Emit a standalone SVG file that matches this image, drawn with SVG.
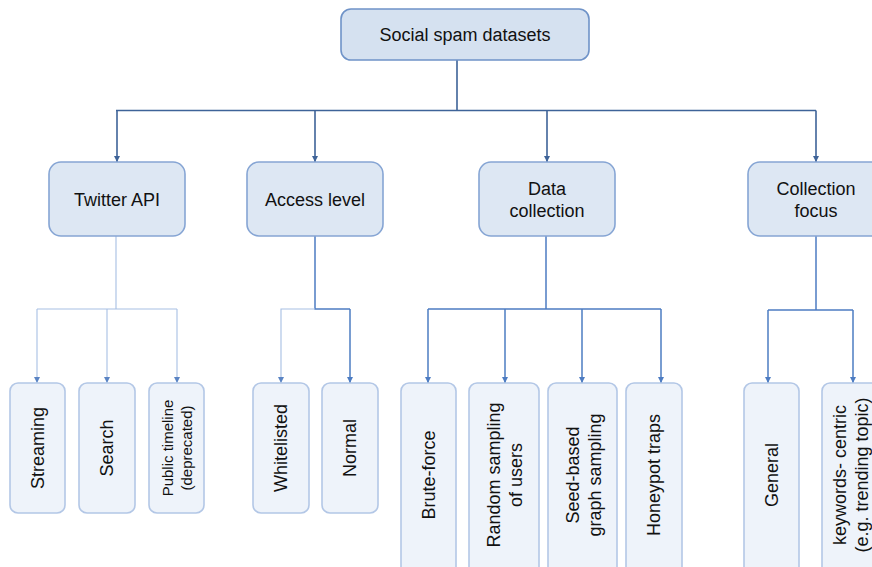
<svg xmlns="http://www.w3.org/2000/svg" width="872" height="567" viewBox="0 0 872 567">
  <defs>
    <marker id="arrDark" viewBox="0 0 10 10" refX="10" refY="5" markerWidth="6" markerHeight="6" markerUnits="userSpaceOnUse" orient="auto">
      <path d="M0,0 L10,5 L0,10 z" fill="#3e6398"/>
    </marker>
    <marker id="arrMid" viewBox="0 0 10 10" refX="10" refY="5" markerWidth="6" markerHeight="6" markerUnits="userSpaceOnUse" orient="auto">
      <path d="M0,0 L10,5 L0,10 z" fill="#4d7cc2"/>
    </marker>
    <marker id="arrLight" viewBox="0 0 10 10" refX="10" refY="5" markerWidth="6" markerHeight="6" markerUnits="userSpaceOnUse" orient="auto">
      <path d="M0,0 L10,5 L0,10 z" fill="#5a84c4"/>
    </marker>
  </defs>
  <style>
    text { font-family: "Liberation Sans", Arial, sans-serif; fill: #111; text-anchor: middle; }
    .root rect { fill: #d5e1f0; stroke: #6f93c8; stroke-width: 1.6; }
    .cat rect { fill: #dde7f3; stroke: #86a5d4; stroke-width: 1.6; }
    .leaf rect { fill: #eef3fa; stroke: #b3c7e6; stroke-width: 1.6; }
    .t18 { font-size: 18px; }
    .t15 { font-size: 15px; }
    .dark { fill: none; stroke: #3e6398; stroke-width: 1.6; }
    .mid { fill: none; stroke: #4d7cc2; stroke-width: 1.5; }
    .light { fill: none; stroke: #a7bfe3; stroke-width: 1.1; }
  </style>

  <!-- connectors -->
  <g id="connectors">
    <!-- root to categories -->
    <path class="dark" d="M457,60 V110.5 M116,110.5 H816"/>
    <path class="dark" d="M117,110.5 V162" marker-end="url(#arrDark)"/>
    <path class="dark" d="M315,110.5 V162" marker-end="url(#arrDark)"/>
    <path class="dark" d="M547,110.5 V162" marker-end="url(#arrDark)"/>
    <path class="dark" d="M816,110.5 V162" marker-end="url(#arrDark)"/>

    <!-- Twitter API children -->
    <path class="light" d="M116,236 V309 M37,309 H177"/>
    <path class="light" d="M37,309 V383" marker-end="url(#arrLight)"/>
    <path class="light" d="M107,309 V383" marker-end="url(#arrLight)"/>
    <path class="light" d="M177,309 V383" marker-end="url(#arrLight)"/>

    <!-- Access level children -->
    <path class="mid" d="M315,236 V309 H350"/>
    <path class="light" d="M315,309 H281 V383" marker-end="url(#arrLight)"/>
    <path class="mid" d="M350,309 V383" marker-end="url(#arrMid)"/>

    <!-- Data collection children -->
    <path class="mid" d="M546,236 V309 M428,309 H661"/>
    <path class="mid" d="M428,309 V383" marker-end="url(#arrMid)"/>
    <path class="mid" d="M505,309 V383" marker-end="url(#arrMid)"/>
    <path class="mid" d="M582,309 V383" marker-end="url(#arrMid)"/>
    <path class="mid" d="M661,309 V383" marker-end="url(#arrMid)"/>

    <!-- Collection focus children -->
    <path class="mid" d="M816,236 V310 M768,310 H853"/>
    <path class="mid" d="M768,310 V383" marker-end="url(#arrMid)"/>
    <path class="mid" d="M853,310 V383" marker-end="url(#arrMid)"/>
  </g>

  <!-- root -->
  <g id="root" class="root">
    <rect x="341" y="9" width="248" height="51" rx="10"/>
    <text class="t18" x="465" y="41">Social spam datasets</text>
  </g>

  <!-- categories -->
  <g id="twitter-api" class="cat">
    <rect x="49" y="162" width="136" height="74" rx="12"/>
    <text class="t18" x="117" y="206">Twitter API</text>
  </g>
  <g id="access-level" class="cat">
    <rect x="247" y="162" width="136" height="74" rx="12"/>
    <text class="t18" x="315" y="206">Access level</text>
  </g>
  <g id="data-collection" class="cat">
    <rect x="479" y="162" width="136" height="74" rx="12"/>
    <text class="t18" x="547" y="195">Data</text>
    <text class="t18" x="547" y="217">collection</text>
  </g>
  <g id="collection-focus" class="cat">
    <rect x="748" y="162" width="136" height="74" rx="12"/>
    <text class="t18" x="816" y="195">Collection</text>
    <text class="t18" x="816" y="217">focus</text>
  </g>

  <!-- Twitter API leaves -->
  <g id="streaming" class="leaf">
    <rect x="10" y="383" width="55" height="130" rx="8"/>
    <text class="t18" transform="translate(37.5,448) rotate(-90)" y="6">Streaming</text>
  </g>
  <g id="search" class="leaf">
    <rect x="79" y="383" width="56" height="130" rx="8"/>
    <text class="t18" transform="translate(107,448) rotate(-90)" y="6">Search</text>
  </g>
  <g id="public-timeline" class="leaf">
    <rect x="149" y="383" width="55" height="130" rx="8"/>
    <text class="t15" transform="translate(176.5,448) rotate(-90)" y="-4">Public timeline</text>
    <text class="t15" transform="translate(176.5,448) rotate(-90)" y="15">(deprecated)</text>
  </g>

  <!-- Access level leaves -->
  <g id="whitelisted" class="leaf">
    <rect x="253" y="383" width="56" height="130" rx="8"/>
    <text class="t18" transform="translate(281,448) rotate(-90)" y="6">Whitelisted</text>
  </g>
  <g id="normal" class="leaf">
    <rect x="322" y="383" width="56" height="130" rx="8"/>
    <text class="t18" transform="translate(350,448) rotate(-90)" y="6">Normal</text>
  </g>

  <!-- Data collection leaves -->
  <g id="brute-force" class="leaf">
    <rect x="401" y="383" width="55" height="192" rx="8"/>
    <text class="t18" transform="translate(428.5,475) rotate(-90)" y="6">Brute-force</text>
  </g>
  <g id="random-sampling" class="leaf">
    <rect x="469" y="383" width="70" height="192" rx="8"/>
    <text class="t18" transform="translate(504,475) rotate(-90)" y="-4">Random sampling</text>
    <text class="t18" transform="translate(504,475) rotate(-90)" y="18">of users</text>
  </g>
  <g id="seed-based" class="leaf">
    <rect x="548" y="383" width="69" height="192" rx="8"/>
    <text class="t18" transform="translate(582.5,475) rotate(-90)" y="-4">Seed-based</text>
    <text class="t18" transform="translate(582.5,475) rotate(-90)" y="18">graph sampling</text>
  </g>
  <g id="honeypot" class="leaf">
    <rect x="626" y="383" width="56" height="192" rx="8"/>
    <text class="t18" transform="translate(654,475) rotate(-90)" y="6">Honeypot traps</text>
  </g>

  <!-- Collection focus leaves -->
  <g id="general" class="leaf">
    <rect x="744" y="383" width="55" height="192" rx="8"/>
    <text class="t18" transform="translate(771.5,475) rotate(-90)" y="6">General</text>
  </g>
  <g id="keywords-centric" class="leaf">
    <rect x="822" y="383" width="62" height="192" rx="8"/>
    <text class="t18" transform="translate(851,475) rotate(-90)" y="-5">keywords- centric</text>
    <text class="t18" transform="translate(851,475) rotate(-90)" y="17">(e.g. trending topic)</text>
  </g>
</svg>
